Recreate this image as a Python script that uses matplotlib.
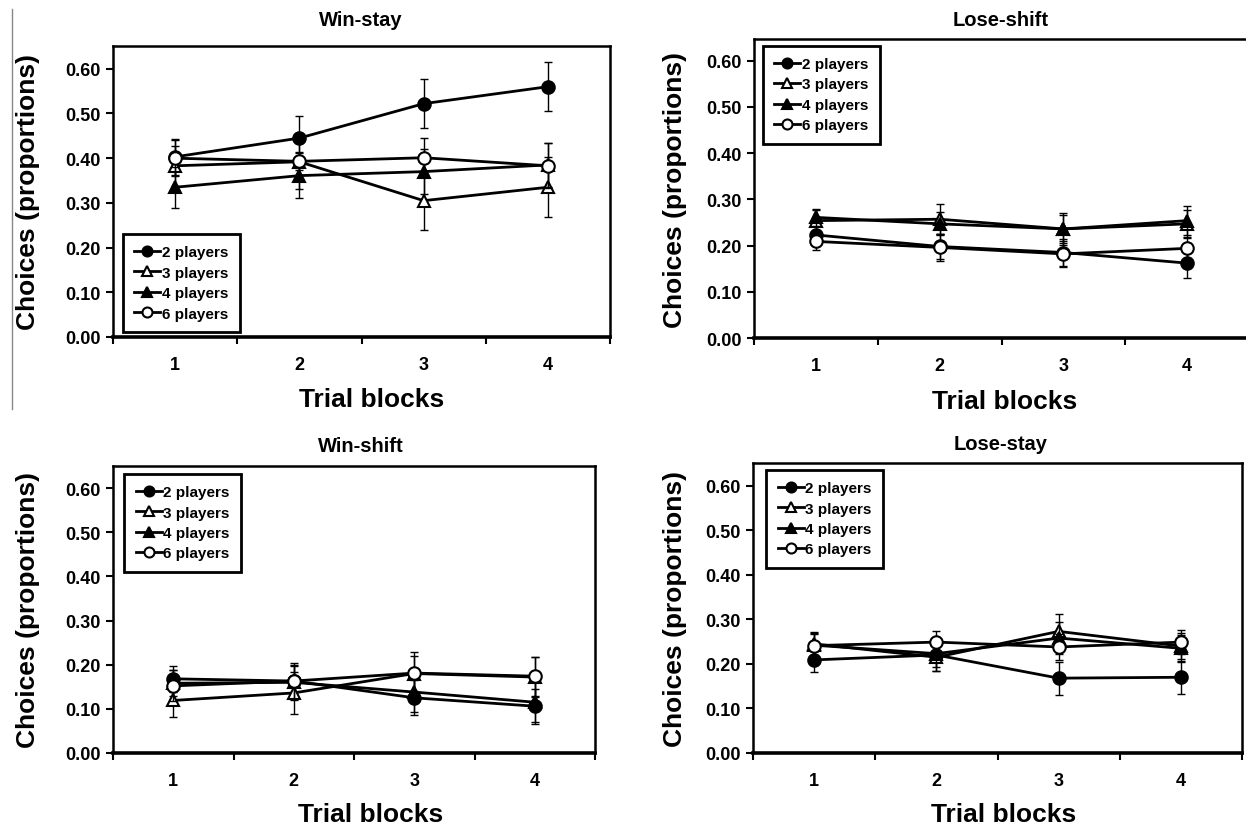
import numpy as np
import matplotlib
matplotlib.use('Agg')
import matplotlib.pyplot as plt
from matplotlib.lines import Line2D

plt.rcParams['font.family'] = ['Liberation Sans', 'DejaVu Sans']
plt.rcParams['font.weight'] = 'bold'

W, H = 1246, 828
blocks = [1, 2, 3, 4]
groups = ['2 players', '3 players', '4 players', '6 players']

# Win-stay
ws_2 = [0.403, 0.445, 0.522, 0.560]
ws_3 = [0.383, 0.392, 0.305, 0.335]
ws_4 = [0.335, 0.361, 0.370, 0.385]
ws_6 = [0.400, 0.393, 0.401, 0.383]
ws_e2 = [0.040, 0.050, 0.055, 0.055]
ws_e3 = [0.045, 0.060, 0.066, 0.067]
ws_e4 = [0.046, 0.050, 0.050, 0.050]
ws_e6 = [0.040, 0.020, 0.044, 0.050]

# Lose-shift
ls_2 = [0.223, 0.198, 0.185, 0.162]
ls_3 = [0.254, 0.257, 0.236, 0.247]
ls_4 = [0.261, 0.247, 0.236, 0.254]
ls_6 = [0.209, 0.196, 0.182, 0.194]
ls_e2 = [0.020, 0.028, 0.030, 0.033]
ls_e3 = [0.022, 0.032, 0.030, 0.030]
ls_e4 = [0.018, 0.025, 0.035, 0.032]
ls_e6 = [0.018, 0.030, 0.028, 0.025]

# Win-shift
wsh_2 = [0.168, 0.163, 0.125, 0.106]
wsh_3 = [0.119, 0.136, 0.180, 0.172]
wsh_4 = [0.158, 0.160, 0.138, 0.115]
wsh_6 = [0.152, 0.163, 0.181, 0.174]
wsh_e2 = [0.030, 0.035, 0.040, 0.040]
wsh_e3 = [0.038, 0.047, 0.040, 0.045]
wsh_e4 = [0.030, 0.040, 0.045, 0.045]
wsh_e6 = [0.035, 0.040, 0.047, 0.044]

# Lose-stay
lst_2 = [0.209, 0.220, 0.168, 0.170]
lst_3 = [0.245, 0.215, 0.273, 0.240]
lst_4 = [0.242, 0.223, 0.258, 0.235]
lst_6 = [0.241, 0.249, 0.238, 0.249]
lst_e2 = [0.028, 0.035, 0.037, 0.037]
lst_e3 = [0.025, 0.030, 0.039, 0.030]
lst_e4 = [0.025, 0.030, 0.035, 0.030]
lst_e6 = [0.030, 0.025, 0.030, 0.027]

styles = [('o', 'black'), ('^', 'white'), ('^', 'black'), ('o', 'white')]
yticks = [0.0, 0.1, 0.2, 0.3, 0.4, 0.5, 0.6]

fig = plt.figure(figsize=(W / 100, H / 100), dpi=100, facecolor='white')


def px_ax(left, right, top, bottom):
    return fig.add_axes([left / W, 1 - bottom / H, (right - left) / W, (bottom - top) / H])


def panel(ax, title, tx, ty, series, errs, ytop, leg_loc, leg_anchor, ylab_x, xlab_x, xlab_y):
    for (m, fc), vals, err, lab in zip(styles, series, errs, groups):
        ax.errorbar(blocks, vals, yerr=err, fmt='none', ecolor='black',
                    elinewidth=1, capsize=3, capthick=1)
        ax.plot(blocks, vals, color='black', lw=2, marker=m, markersize=9,
                markerfacecolor=fc, markeredgecolor='black',
                markeredgewidth=1.5, label=lab)
    ax.set_xlim(0.5, 4.5)
    ax.set_ylim(0, ytop)
    ax.set_yticks(yticks)
    ax.set_yticklabels([f'{v:.2f}' for v in yticks], fontsize=13, fontweight='bold')
    ax.set_xticks(blocks)
    ax.set_xticklabels([str(b) for b in blocks], fontsize=13, fontweight='bold')
    ax.set_xticks([0.5, 1.5, 2.5, 3.5, 4.5], minor=True)
    ax.tick_params(axis='x', which='major', length=0, pad=14)
    ax.tick_params(axis='x', which='minor', length=5, width=1.5, direction='out')
    ax.tick_params(axis='y', length=5, width=1.5, direction='out', pad=4)
    for s in ax.spines.values():
        s.set_linewidth(1.8)
    ax.spines['bottom'].set_linewidth(2.6)
    leg = ax.legend(loc=leg_loc, bbox_to_anchor=leg_anchor,
                    prop={'weight': 'bold', 'size': 11}, numpoints=1,
                    handlelength=1.7, handletextpad=0.1, labelspacing=0.42,
                    borderpad=0.75, borderaxespad=0, fancybox=False,
                    framealpha=1, markerscale=0.8)
    leg.get_frame().set_edgecolor('black')
    leg.get_frame().set_linewidth(2)
    bb = ax.get_position()
    cy = (bb.y0 + bb.y1) / 2
    fig.text(tx / W, 1 - ty / H, title, ha='center', va='center', fontsize=14.5,
             fontweight='bold')
    fig.text(ylab_x / W, cy, 'Choices (proportions)', rotation=90, ha='center',
             va='center', fontsize=19, fontweight='bold')
    fig.text(xlab_x / W, 1 - xlab_y / H, 'Trial blocks', ha='center', va='center',
             fontsize=19, fontweight='bold')


ax1 = px_ax(113, 610, 47, 338)
panel(ax1, 'Win-stay', 361, 20, [ws_2, ws_3, ws_4, ws_6],
      [ws_e2, ws_e3, ws_e4, ws_e6], 0.651, 'lower left', (0.02, 0.017), 28, 372, 400)

ax2 = px_ax(754, 1249, 40, 339)
panel(ax2, 'Lose-shift', 1001, 20, [ls_2, ls_3, ls_4, ls_6],
      [ls_e2, ls_e3, ls_e4, ls_e6], 0.647, 'upper left', (0.018, 0.978), 675, 1005, 402)

ax3 = px_ax(113, 595, 467, 754)
panel(ax3, 'Win-shift', 361, 447, [wsh_2, wsh_3, wsh_4, wsh_6],
      [wsh_e2, wsh_e3, wsh_e4, wsh_e6], 0.65, 'upper left', (0.023, 0.973), 28, 371, 815)

ax4 = px_ax(753, 1242, 464, 754)
panel(ax4, 'Lose-stay', 1001, 445, [lst_2, lst_3, lst_4, lst_6],
      [lst_e2, lst_e3, lst_e4, lst_e6], 0.651, 'upper left', (0.027, 0.977), 675, 1004, 815)

# thin grey rule at left edge of upper half
fig.add_artist(Line2D([12 / W, 12 / W], [1 - 10 / H, 1 - 410 / H],
                      color='#888888', lw=1, transform=fig.transFigure))

fig.savefig('out.png', dpi=100, facecolor='white')
